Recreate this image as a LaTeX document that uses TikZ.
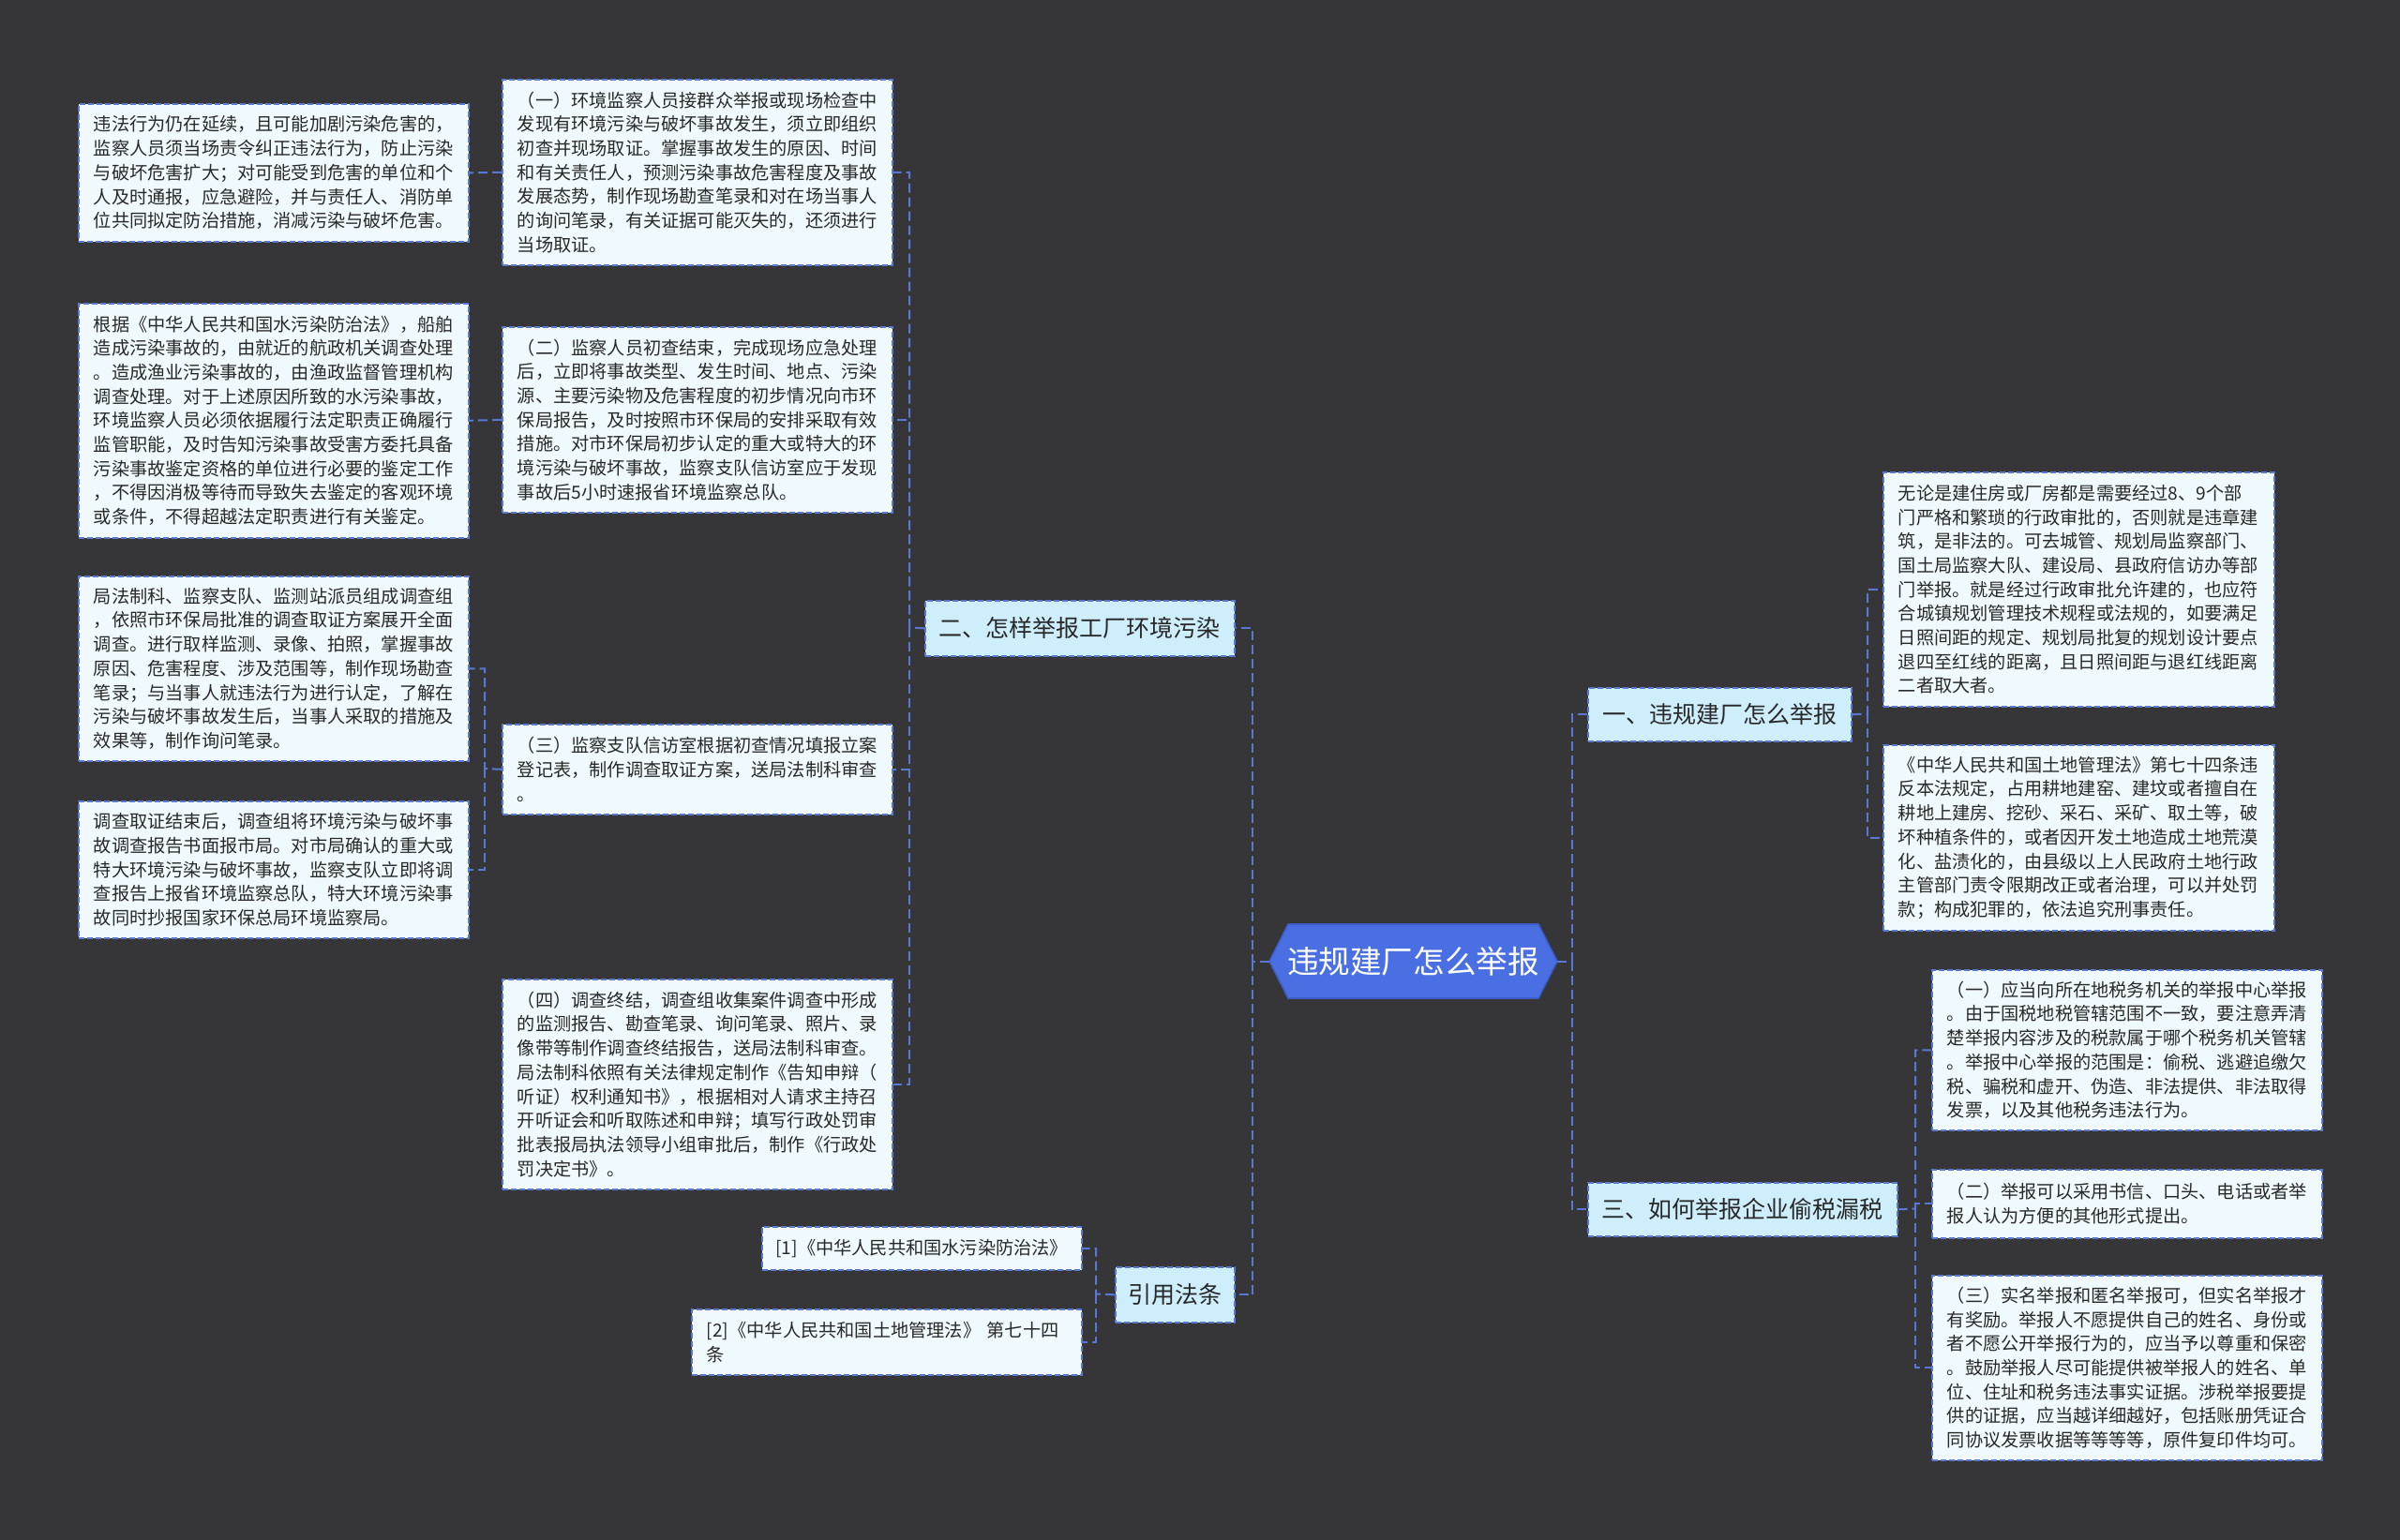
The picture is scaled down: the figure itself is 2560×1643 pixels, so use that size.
\documentclass[tikz,border=0pt]{standalone}
\usepackage{fontspec}
\setmainfont{Noto Sans CJK SC}
\definecolor{bgc}{RGB}{54,54,56}
\definecolor{linec}{RGB}{88,120,212}
\definecolor{leaffill}{RGB}{240,250,254}
\definecolor{branchfill}{RGB}{206,238,252}
\definecolor{centerfill}{RGB}{74,111,226}
\definecolor{centerdraw}{RGB}{60,92,200}
\definecolor{textc}{RGB}{40,40,40}
\tikzset{
  leaf/.style={draw=linec, line width=0.8pt, dash pattern=on 3pt off 1.5pt, fill=leaffill, text=textc,
    font=\fontsize{9.6pt}{12.85pt}\selectfont, align=left, anchor=north west, inner xsep=8pt, inner ysep=0pt,
    text width=#1},
  leaf/.default=192pt,
  refbox/.style={draw=linec, line width=0.8pt, dash pattern=on 3pt off 1.5pt, fill=leaffill, text=textc,
    font=\fontsize{9.6pt}{12.85pt}\selectfont, align=center, anchor=north west, inner sep=0pt},
  branch/.style={draw=linec, line width=0.8pt, dash pattern=on 3pt off 1.5pt, fill=branchfill, text=textc,
    font=\fontsize{12.5pt}{15pt}\selectfont, anchor=north west, inner sep=0pt},
  conn/.style={draw=linec, line width=1pt, dash pattern=on 5pt off 2.5pt},
}
\begin{document}
\begin{tikzpicture}[x=0.5pt,y=-0.5pt]
\fill[bgc] (0,0) rectangle (2560,1643);
\useasboundingbox (0,0) rectangle (2560,1643);

% center
\filldraw[fill=centerfill, draw=centerdraw, line width=0.8pt]
  (1354,1025.5) -- (1374,986) -- (1641,986) -- (1661,1025.5) -- (1641,1065) -- (1374,1065) -- cycle;
\node[minimum width=153.5pt, minimum height=39.5pt, inner sep=0pt, text=white,
  font=\fontsize{16.8pt}{20pt}\selectfont] (c) at (1507.5,1025.5) {违规建厂怎么举报};

% branches
\node[branch, minimum width=165pt, minimum height=29.5pt] (B2) at (986,640) {二、怎样举报工厂环境污染};
\node[branch, minimum width=140.5pt, minimum height=28.5pt] (B1) at (1693,733) {一、违规建厂怎么举报};
\node[branch, minimum width=165pt, minimum height=28.5pt] (B3) at (1693,1261) {三、如何举报企业偷税漏税};
\node[branch, minimum width=63.5pt, minimum height=29.5pt] (B4) at (1189,1351) {引用法条};

% middle column
\node[leaf, minimum height=99pt] (M1) at (535,84) {（一）环境监察人员接群众举报或现场检查中\\发现有环境污染与破坏事故发生，须立即组织\\初查并现场取证。掌握事故发生的原因、时间\\和有关责任人，预测污染事故危害程度及事故\\发展态势，制作现场勘查笔录和对在场当事人\\的询问笔录，有关证据可能灭失的，还须进行\\当场取证。};
\node[leaf, minimum height=99pt] (M2) at (535,348) {（二）监察人员初查结束，完成现场应急处理\\后，立即将事故类型、发生时间、地点、污染\\源、主要污染物及危害程度的初步情况向市环\\保局报告，及时按照市环保局的安排采取有效\\措施。对市环保局初步认定的重大或特大的环\\境污染与破坏事故，监察支队信访室应于发现\\事故后5小时速报省环境监察总队。};
\node[leaf, minimum height=48pt] (M3) at (535,772) {（三）监察支队信访室根据初查情况填报立案\\登记表，制作调查取证方案，送局法制科审查\\。};
\node[leaf, minimum height=112pt] (M4) at (535,1044) {（四）调查终结，调查组收集案件调查中形成\\的监测报告、勘查笔录、询问笔录、照片、录\\像带等制作调查终结报告，送局法制科审查。\\局法制科依照有关法律规定制作《告知申辩（\\听证）权利通知书》，根据相对人请求主持召\\开听证会和听取陈述和申辩；填写行政处罚审\\批表报局执法领导小组审批后，制作《行政处\\罚决定书》。};

% left column
\node[leaf, minimum height=73.5pt] (L1) at (83,110) {违法行为仍在延续，且可能加剧污染危害的，\\监察人员须当场责令纠正违法行为，防止污染\\与破坏危害扩大；对可能受到危害的单位和个\\人及时通报，应急避险，并与责任人、消防单\\位共同拟定防治措施，消减污染与破坏危害。};
\node[leaf, minimum height=125pt] (L2) at (83,323) {根据《中华人民共和国水污染防治法》，船舶\\造成污染事故的，由就近的航政机关调查处理\\。造成渔业污染事故的，由渔政监督管理机构\\调查处理。对于上述原因所致的水污染事故，\\环境监察人员必须依据履行法定职责正确履行\\监管职能，及时告知污染事故受害方委托具备\\污染事故鉴定资格的单位进行必要的鉴定工作\\，不得因消极等待而导致失去鉴定的客观环境\\或条件，不得超越法定职责进行有关鉴定。};
\node[leaf, minimum height=98.5pt] (L3) at (83,614) {局法制科、监察支队、监测站派员组成调查组\\，依照市环保局批准的调查取证方案展开全面\\调查。进行取样监测、录像、拍照，掌握事故\\原因、危害程度、涉及范围等，制作现场勘查\\笔录；与当事人就违法行为进行认定，了解在\\污染与破坏事故发生后，当事人采取的措施及\\效果等，制作询问笔录。};
\node[leaf, minimum height=73pt] (L4) at (83,854) {调查取证结束后，调查组将环境污染与破坏事\\故调查报告书面报市局。对市局确认的重大或\\特大环境污染与破坏事故，监察支队立即将调\\查报告上报省环境监察总队，特大环境污染事\\故同时抄报国家环保总局环境监察局。};

% references
\node[refbox, minimum width=170.5pt, minimum height=23pt] (Ref1) at (812,1308) {[1]《中华人民共和国水污染防治法》};
\node[leaf, minimum height=35pt] (Ref2) at (737,1396) {[2]《中华人民共和国土地管理法》 第七十四\\条};

% right column
\node[leaf=192.5pt, minimum height=125pt] (R1) at (2008,503) {无论是建住房或厂房都是需要经过8、9个部\\门严格和繁琐的行政审批的，否则就是违章建\\筑，是非法的。可去城管、规划局监察部门、\\国土局监察大队、建设局、县政府信访办等部\\门举报。就是经过行政审批允许建的，也应符\\合城镇规划管理技术规程或法规的，如要满足\\日照间距的规定、规划局批复的规划设计要点\\退四至红线的距离，且日照间距与退红线距离\\二者取大者。};
\node[leaf=192.5pt, minimum height=99pt] (R2) at (2008,794) {《中华人民共和国土地管理法》第七十四条违\\反本法规定，占用耕地建窑、建坟或者擅自在\\耕地上建房、挖砂、采石、采矿、取土等，破\\坏种植条件的，或者因开发土地造成土地荒漠\\化、盐渍化的，由县级以上人民政府土地行政\\主管部门责令限期改正或者治理，可以并处罚\\款；构成犯罪的，依法追究刑事责任。};
\node[leaf, minimum height=85.5pt] (R3) at (2060,1034) {（一）应当向所在地税务机关的举报中心举报\\。由于国税地税管辖范围不一致，要注意弄清\\楚举报内容涉及的税款属于哪个税务机关管辖\\。举报中心举报的范围是：偷税、逃避追缴欠\\税、骗税和虚开、伪造、非法提供、非法取得\\发票，以及其他税务违法行为。};
\node[leaf, minimum height=36.5pt] (R4) at (2060,1247) {（二）举报可以采用书信、口头、电话或者举\\报人认为方便的其他形式提出。};
\node[leaf, minimum height=98.5pt] (R5) at (2060,1360) {（三）实名举报和匿名举报可，但实名举报才\\有奖励。举报人不愿提供自己的姓名、身份或\\者不愿公开举报行为的，应当予以尊重和保密\\。鼓励举报人尽可能提供被举报人的姓名、单\\位、住址和税务违法事实证据。涉税举报要提\\供的证据，应当越详细越好，包括账册凭证合\\同协议发票收据等等等等，原件复印件均可。};

% connectors
\coordinate (tL) at (1336,1025.5);
\coordinate (tR) at (1677,1025.5);
\draw[conn] (c.west) -- (tL) |- (B2.east);
\draw[conn] (tL) |- (B4.east);
\draw[conn] (c.east) -- (tR) |- (B1.west);
\draw[conn] (tR) |- (B3.west);

\coordinate (t2) at (970,669.5);
\draw[conn] (B2.west) -- (t2) |- (M1.east);
\draw[conn] (t2) |- (M2.east);
\draw[conn] (t2) |- (M3.east);
\draw[conn] (t2) |- (M4.east);

\draw[conn] (M1.west) -- (L1.east);
\draw[conn] (M2.west) -- (L2.east);
\coordinate (t3) at (517,820);
\draw[conn] (M3.west) -- (t3) |- (L3.east);
\draw[conn] (t3) |- (L4.east);

\coordinate (t1) at (1992,761.5);
\draw[conn] (B1.east) -- (t1) |- (R1.west);
\draw[conn] (t1) |- (R2.west);

\coordinate (t3r) at (2043,1289.5);
\draw[conn] (B3.east) -- (t3r) |- (R3.west);
\draw[conn] (t3r) |- (R4.west);
\draw[conn] (t3r) |- (R5.west);

\coordinate (t4) at (1169,1380.5);
\draw[conn] (B4.west) -- (t4) |- (Ref1.east);
\draw[conn] (t4) |- (Ref2.east);
\end{tikzpicture}
\end{document}
